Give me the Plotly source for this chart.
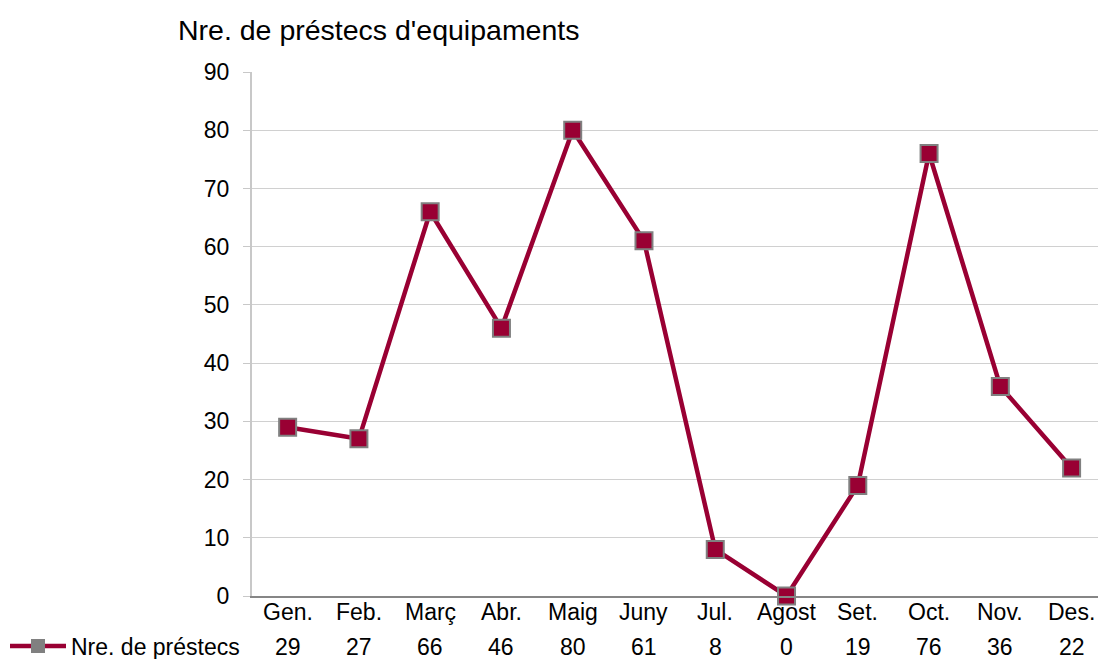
import plotly.graph_objects as go

# chart data
months = ["Gen.", "Feb.", "Març", "Abr.", "Maig", "Juny", "Jul.", "Agost", "Set.", "Oct.", "Nov.", "Des."]
loans = [29, 27, 66, 46, 80, 61, 8, 0, 19, 76, 36, 22]
series_name = "Nre. de préstecs"
chart_title = "Nre. de préstecs d'equipaments"

W, H = 1098, 659
L, R, T, B = 252, 0, 72, 63
PW, PH = W - L - R, H - T - B
FONT = "Liberation Sans, Arial, sans-serif"
LINE_COL = "#990033"


def px_x(x):
    return (x - L) / PW


def px_y(y):
    return (H - B - y) / PH


xs = list(range(len(months)))

fig = go.Figure()
fig.add_trace(go.Scatter(
    x=xs, y=loans, mode="lines+markers",
    line=dict(color=LINE_COL, width=4.5),
    marker=dict(symbol="square", size=17, color=LINE_COL,
                line=dict(color="#808080", width=2)),
    cliponaxis=False, showlegend=False, name=series_name,
))

# category labels and data table row below the axis
for i, m, v in zip(xs, months, loans):
    fig.add_annotation(x=i, y=px_y(611.5), xref="x", yref="paper", text=m,
                       showarrow=False, font=dict(size=23, color="#000"),
                       yanchor="middle")
    fig.add_annotation(x=i, y=px_y(646.5), xref="x", yref="paper", text=str(v),
                       showarrow=False, font=dict(size=23, color="#000"),
                       yanchor="middle")

# legend key for the table row
fig.add_annotation(x=px_x(69), y=px_y(646.5), xref="paper", yref="paper", text=series_name,
                   showarrow=False, xanchor="left", yanchor="middle",
                   font=dict(size=23, color="#000"))
fig.add_shape(type="line", xref="paper", yref="paper",
              x0=px_x(10), x1=px_x(66), y0=px_y(646), y1=px_y(646),
              line=dict(color=LINE_COL, width=4.5))
fig.add_shape(type="rect", xref="paper", yref="paper",
              x0=px_x(31), x1=px_x(45), y0=px_y(653), y1=px_y(639),
              fillcolor="#808080", line=dict(width=0))

# title
fig.add_annotation(x=px_x(176), y=px_y(30), xref="paper", yref="paper",
                   text=chart_title, showarrow=False, xanchor="left", yanchor="middle",
                   font=dict(size=28.5, color="#000"))

fig.update_layout(
    width=W, height=H,
    margin=dict(l=L, r=R, t=T, b=B),
    paper_bgcolor="white", plot_bgcolor="white",
    font=dict(family=FONT, size=23, color="#000"),
    xaxis=dict(
        tickmode="array", tickvals=xs, showticklabels=False,
        range=[-0.5, -0.5 + PW / 71.27],
        showgrid=False, zeroline=False, ticks="",
        showline=True, linecolor="#868686", linewidth=1.5,
    ),
    yaxis=dict(
        range=[0, 90], tickmode="linear", dtick=10,
        showgrid=True, gridcolor="#d0d0d0", gridwidth=1,
        zeroline=False, showline=True, linecolor="#c8c8c8", linewidth=2,
        ticks="outside", ticklen=7, tickcolor="#c8c8c8",
        tickfont=dict(size=23), ticklabelstandoff=9,
    ),
)

fig.write_html("out.html", config={"displayModeBar": False},
               post_script="document.body.style.margin='0';")
